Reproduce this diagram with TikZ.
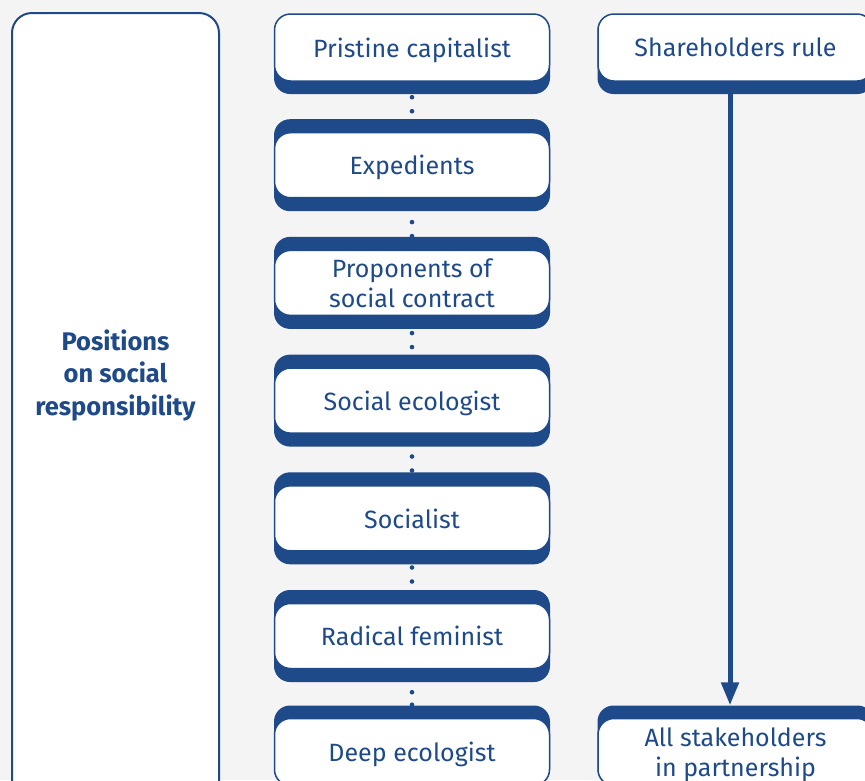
\documentclass[tikz,border=0pt]{standalone}
\usepackage{fontspec}
\setmainfont{Fira Sans}
\usetikzlibrary{arrows.meta}
\definecolor{navy}{RGB}{31,74,138}
\definecolor{bgc}{RGB}{244,244,244}
\begin{document}
\begin{tikzpicture}[x=1pt,y=-1pt,
  band/.style={fill=navy, rounded corners=16pt, minimum width=276pt, inner sep=0pt},
  card/.style={fill=white, draw=navy, line width=1.5pt, rounded corners=16pt, minimum width=275pt, inner sep=0pt, align=center, text=navy, text depth=0pt, font=\fontsize{25}{30}\selectfont},
  sidebox/.style={fill=white, draw=navy, line width=2pt, rounded corners=20pt, minimum width=207pt, minimum height=797pt, inner sep=0pt},
  sidetext/.style={align=center, text=navy, font=\fontsize{25.5}{32.5}\selectfont\bfseries},
  dots/.style={navy, line width=4.6pt, line cap=round},
  flow/.style={navy, line width=5pt, -{Triangle[width=17pt,length=23pt]}}]
\fill[bgc] (0,0) rectangle (865,780);
\useasboundingbox (0,0) rectangle (865,780);
% left box
\node[sidebox] (side) at (115.5,411.5) {};
\node[sidetext] (sidelabel) at (115.5,375) {Positions\\on social\\responsibility};
% middle column bands
\node[band, minimum height=80pt] (b1) at (412,54) {};
\node[band, minimum height=92pt] (b2) at (412,165.2) {};
\node[band, minimum height=92pt] (b3) at (412,282.9) {};
\node[band, minimum height=92pt] (b4) at (412,400.6) {};
\node[band, minimum height=92pt] (b5) at (412,518.3) {};
\node[band, minimum height=92pt] (b6) at (412,636) {};
\node[band, minimum height=80pt] (b7) at (412,745.5) {};
% middle column cards
\node[card, minimum height=67pt] (w1) at (412,47.5) {Pristine capitalist};
\node[card, minimum height=65pt] (w2) at (412,165.2) {Expedients};
\node[card, minimum height=65pt] (w3) at (412,282.9) {Proponents of\\social contract};
\node[card, minimum height=65pt] (w4) at (412,400.6) {Social ecologist};
\node[card, minimum height=65pt] (w5) at (412,518.3) {Socialist};
\node[card, minimum height=65pt] (w6) at (412,636) {Radical feminist};
\node[card, minimum height=67pt] (w7) at (412,752) {Deep ecologist};
% dotted links
\draw[dots, dash pattern=on 0pt off 14pt, dash phase=11pt] (b1.south) -- (b2.north);
\draw[dots, dash pattern=on 0pt off 14pt, dash phase=3.3pt] (b2.south) -- (b3.north);
\draw[dots, dash pattern=on 0pt off 14pt, dash phase=10pt] (b3.south) -- (b4.north);
\draw[dots, dash pattern=on 0pt off 14pt, dash phase=4.3pt] (b4.south) -- (b5.north);
\draw[dots, dash pattern=on 0pt off 14pt, dash phase=11pt] (b5.south) -- (b6.north);
\draw[dots, dash pattern=on 0pt off 12.5pt, dash phase=2.5pt] (b6.south) -- (b7.north);
% right column
\node[band, minimum height=80pt] (rb1) at (735.5,54) {};
\node[card, minimum height=67pt] (r1) at (735.5,47.5) {Shareholders rule};
\node[band, minimum height=80pt] (rb2) at (735.5,745.5) {};
\node[card, minimum height=67pt] (r2) at (735.5,752) {All stakeholders\\in partnership};
\draw[flow] ([xshift=-5.5pt]rb1.south) -- ([xshift=-5.5pt]rb2.north);
\end{tikzpicture}
\end{document}
